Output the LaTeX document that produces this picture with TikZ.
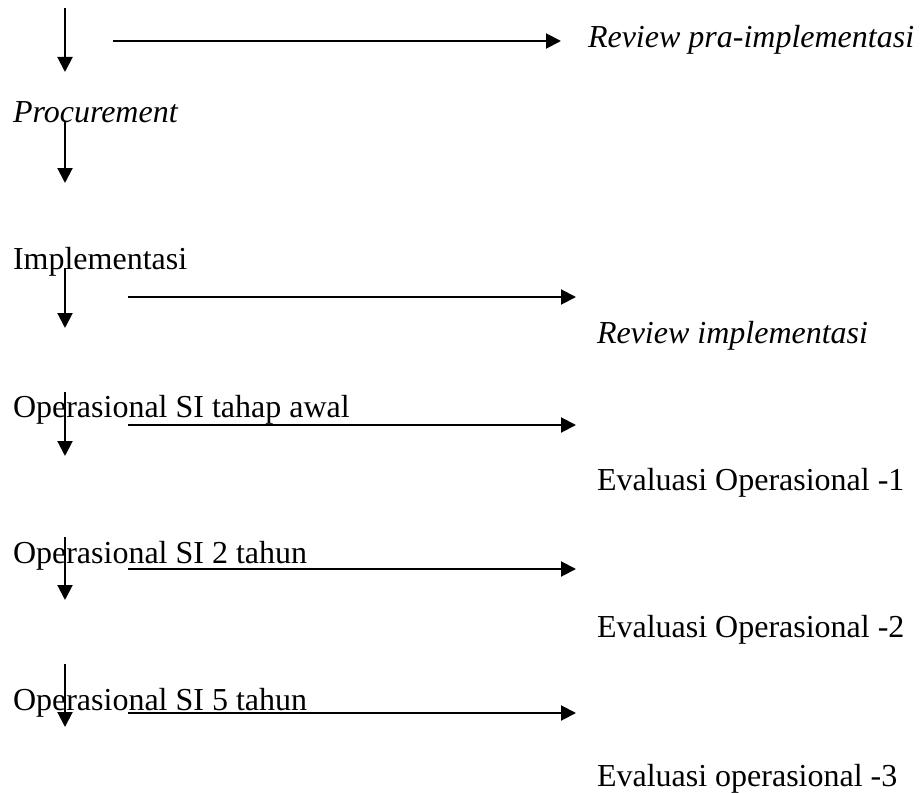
\documentclass[tikz,border=0pt]{standalone}
\usepackage{fontspec}
\setmainfont{Liberation Serif}
\usetikzlibrary{arrows.meta}

\tikzset{
  label/.style={anchor=base west, inner sep=0pt, outer sep=0pt,
    font=\fontsize{32}{38}\selectfont},
  flow/.style={line width=2pt, -{Triangle[length=15pt,width=15pt]}},
}

\begin{document}
\begin{tikzpicture}[x=1pt,y=-1pt]
  \useasboundingbox (0,0) rectangle (920,792);

  % stage labels down the left side
  \node[label] (proc) at (13,122) {\itshape Procurement};
  \node[label] (impl) at (13,269) {Implementasi};
  \node[label] (ops0) at (13,417) {Operasional SI tahap awal};
  \node[label] (ops2) at (13,563) {Operasional SI 2 tahun};
  \node[label] (ops5) at (13,710) {Operasional SI 5 tahun};

  % review / evaluation labels on the right
  \node[label] (revpra) at (588,48)  {\itshape Review pra-implementasi};
  \node[label] (revimp) at (597,343) {\itshape Review implementasi};
  \node[label] (eval1)  at (597,490) {Evaluasi Operasional -1};
  \node[label] (eval2)  at (597,637) {Evaluasi Operasional -2};
  \node[label] (eval3)  at (597,786) {Evaluasi operasional -3};

  % end points of the downward flow arrows
  \coordinate (d1a) at (65,8);   \coordinate (d1b) at (65,72);
  \coordinate (d2a) at (65,122); \coordinate (d2b) at (65,183);
  \coordinate (d3a) at (65,268); \coordinate (d3b) at (65,328);
  \coordinate (d4a) at (65,392); \coordinate (d4b) at (65,456);
  \coordinate (d5a) at (65,537); \coordinate (d5b) at (65,600);
  \coordinate (d6a) at (65,664); \coordinate (d6b) at (65,727);

  % end points of the arrows towards reviews and evaluations
  \coordinate (r1a) at (113,41);  \coordinate (r1b) at (561,41);
  \coordinate (r2a) at (128,297); \coordinate (r2b) at (576,297);
  \coordinate (r3a) at (128,425); \coordinate (r3b) at (576,425);
  \coordinate (r4a) at (128,569); \coordinate (r4b) at (576,569);
  \coordinate (r5a) at (128,713); \coordinate (r5b) at (576,713);

  \foreach \i in {1,...,6} \draw[flow] (d\i a) -- (d\i b);
  \foreach \i in {1,...,5} \draw[flow] (r\i a) -- (r\i b);
\end{tikzpicture}
\end{document}
